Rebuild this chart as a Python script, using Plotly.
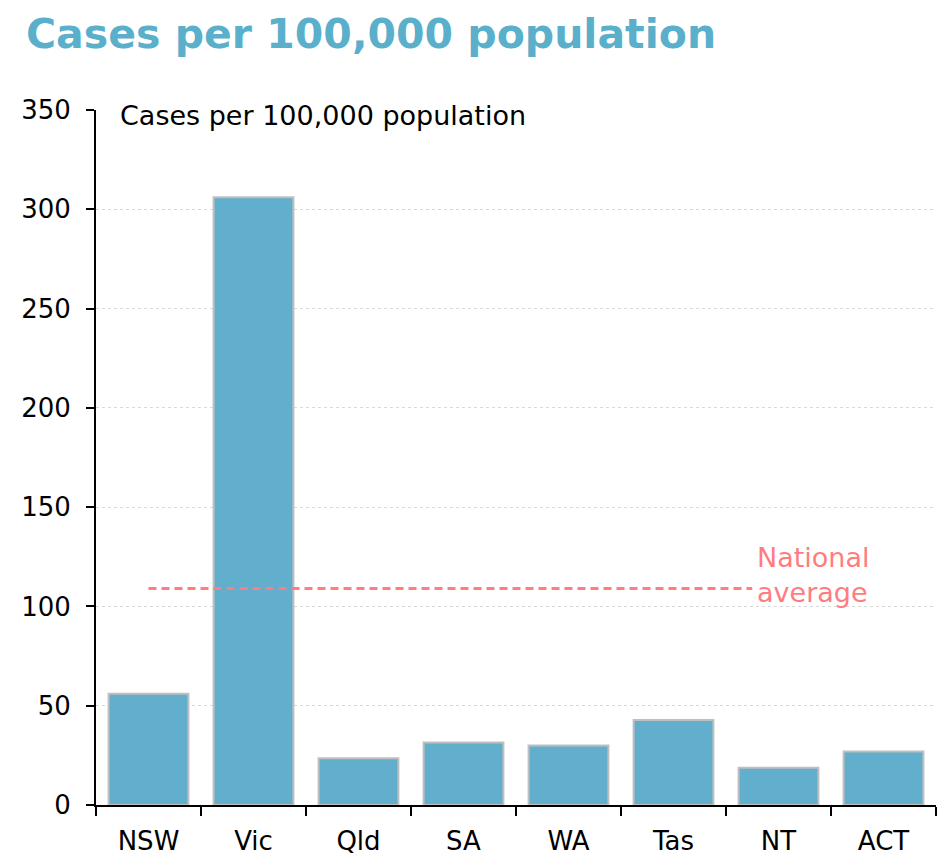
import plotly.graph_objects as go

# Cases per 100,000 population by state / territory
states = ["NSW", "Vic", "Qld", "SA", "WA", "Tas", "NT", "ACT"]
cases_per_100k = [56, 306, 23.5, 31.5, 30, 42.8, 18.7, 27]
national_average = 109
y_ticks = [0, 50, 100, 150, 200, 250, 300, 350]

FONT = "DejaVu Sans"
BAR_COLOR = "#62AFCD"
AVG_COLOR = "#FF7C80"
TITLE = "Cases per 100,000 population"

fig = go.Figure()

fig.add_trace(go.Bar(
    x=states,
    y=cases_per_100k,
    width=0.76,
    marker=dict(color=BAR_COLOR, line=dict(color="#BFBFBF", width=2)),
    hoverinfo="x+y",
))

# National average dashed line (stops short of the label)
fig.add_shape(
    type="line", xref="x", yref="y",
    x0=0, x1=5.75, y0=national_average, y1=national_average,
    line=dict(color=AVG_COLOR, width=3, dash="8px,5px"),
)
fig.add_annotation(
    x=5.78, y=national_average + 7, xref="x", yref="y",
    text="National<br>average", showarrow=False,
    xanchor="left", yanchor="middle", align="left",
    font=dict(family=FONT, size=27, color=AVG_COLOR),
)

# White box behind the inner label so it hides the top gridline
fig.add_shape(
    type="rect", xref="paper", yref="y", layer="below",
    x0=0.002, x1=0.565, y0=340, y1=360,
    fillcolor="white", line=dict(width=0),
)
fig.add_annotation(
    x=0, y=y_ticks[-1], xref="paper", yref="y",
    text=TITLE, showarrow=False,
    xanchor="left", yanchor="middle", xshift=22, yshift=-5,
    font=dict(family=FONT, size=27, color="black"),
)

# Big heading, placed as an annotation above the plot area
fig.add_annotation(
    x=0, y=1, xref="paper", yref="paper",
    text="<b>" + TITLE + "</b>", showarrow=False,
    xanchor="left", yanchor="top", xshift=-72, yshift=102,
    font=dict(family=FONT, size=41, color="#5AAFCB"),
)

# page body adds an 8px offset, so the figure is 8px smaller than the window
fig.update_layout(
    width=940,
    height=850,
    margin=dict(l=88, r=12, t=102, b=53, autoexpand=False),
    paper_bgcolor="white",
    plot_bgcolor="white",
    showlegend=False,
    bargap=0.24,
    font=dict(family=FONT, size=26, color="black"),
)

fig.update_xaxes(
    type="category",
    range=[-0.5, 7.5],
    automargin=False,
    showline=True, linecolor="black", linewidth=2,
    ticks="outside", tickson="boundaries", ticklen=9,
    tickwidth=2, tickcolor="black",
    ticklabelstandoff=12,
    showgrid=False,
    tickfont=dict(family=FONT, size=26, color="black"),
)

fig.update_yaxes(
    range=[0, 350],
    tickvals=y_ticks,
    automargin=False,
    showline=True, linecolor="black", linewidth=2,
    ticks="outside", ticklen=8, tickwidth=2, tickcolor="black",
    ticklabelstandoff=10,
    showgrid=True, gridcolor="#D9D9D9", griddash="dot", gridwidth=1,
    zeroline=False,
    tickfont=dict(family=FONT, size=26, color="black"),
)

fig.write_html("out.html")
